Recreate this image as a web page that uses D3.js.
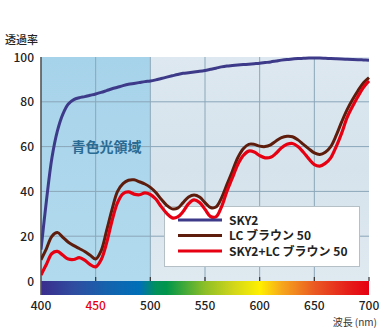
<!DOCTYPE html>
<html><head><meta charset="utf-8">
<script src="https://cdn.jsdelivr.net/npm/d3@7"></script>
<style>body{margin:0;background:#fff}svg{display:block}</style>
</head><body>
<script>
const wavelengths = [400,405,410,415,420,425,430,435,440,445,450,455,460,465,470,475,480,485,490,495,500,505,510,515,520,525,530,535,540,545,550,555,560,565,570,575,580,585,590,595,600,605,610,615,620,625,630,635,640,645,650,655,660,665,670,675,680,685,690,695,700];
const sky2 = [14,36,55,67,74.5,79,81,81.8,82.3,82.9,83.5,84.2,85,85.8,86.5,87.2,87.8,88.2,88.6,89,89.3,89.8,90.4,91,91.6,92.2,92.7,93,93.3,93.6,94,94.5,95,95.6,96,96.2,96.4,96.6,96.8,97,97.2,97.5,97.8,98.2,98.6,98.9,99.1,99.3,99.4,99.5,99.5,99.5,99.4,99.3,99.2,99.1,99,98.9,98.8,98.7,98.6];
const lcBrown = [9.5,14.5,20,21.6,19.5,17.3,15.8,14.5,13.2,11.5,9.8,13.5,22.5,32,40,43.5,45,45.2,44.3,43.3,41.8,39.5,36.5,33.8,32.2,32.5,35,37.5,38.4,37.5,35,32.8,33,37,43,49,55,59,61,61,60.2,60,60.8,62.5,64,64.6,64.4,63,61,59,57.2,56.5,57.5,60,65,71,76.5,81,85,88.5,90.8];
const combo = [2.7,7.5,12.3,13.2,11.5,9.8,9.6,10.4,9.3,7.3,6.3,9.5,17,27,35,39,39.8,38.8,38.5,39.3,38.6,36.6,33.2,30.2,28.2,28.6,31,34.5,36.2,35,32,28.8,28.6,33,40,46,52,56,58,57.6,56,55,55.2,57,59.5,61,61.4,60,57.5,54.5,52,51.3,52.5,55,60,66,73,78,82.5,86.5,89.3];
const xTicks = [400,450,500,550,600,650,700];
const yTicks = [0,20,40,60,80,100];
const seriesNames = ["SKY2","LC ブラウン 50","SKY2+LC ブラウン 50"];
const seriesColors = ["#3e3a8a","#5e1d0c","#e60012"];
const spectrumStops = [[400,"#3a2d8c"],[430,"#2f4da0"],[460,"#1562ad"],[490,"#006fb8"],[505,"#00915a"],[515,"#00964a"],[550,"#8dbf26"],[575,"#cfd51a"],[600,"#fff000"],[620,"#f6a81c"],[650,"#ea5a22"],[680,"#e5201a"],[700,"#e60012"]];

const W=380,H=328;
const svg=d3.select("body").append("svg").attr("width",W).attr("height",H);
const x=d3.scaleLinear().domain([400,700]).range([41,369]);
const y=d3.scaleLinear().domain([0,100]).range([281,57]);
const defs=svg.append("defs");
const font="'Noto Sans CJK JP','Noto Sans',sans-serif";

const gBlue=defs.append("linearGradient").attr("id","gb").attr("x1",0).attr("y1",0).attr("x2",0).attr("y2",1);
gBlue.append("stop").attr("offset",0).attr("stop-color","#a7d3ea");
gBlue.append("stop").attr("offset",1).attr("stop-color","#b2daee");
const gGray=defs.append("linearGradient").attr("id","gg").attr("x1",0).attr("y1",0).attr("x2",0).attr("y2",1);
gGray.append("stop").attr("offset",0).attr("stop-color","#dde8f0");
gGray.append("stop").attr("offset",0.5).attr("stop-color","#d6e3ec");
gGray.append("stop").attr("offset",1).attr("stop-color","#dfe9f0");
const gSpec=defs.append("linearGradient").attr("id","gs").attr("x1",0).attr("x2",1).attr("y1",0).attr("y2",0);
spectrumStops.forEach(s=>gSpec.append("stop").attr("offset",(s[0]-400)/300).attr("stop-color",s[1]));
defs.append("clipPath").attr("id","cp").append("rect").attr("x",x(400)).attr("y",y(100)-3).attr("width",x(700)-x(400)+2).attr("height",y(0)-y(100)+3);

svg.append("rect").attr("x",x(400)).attr("y",y(100)).attr("width",x(500)-x(400)).attr("height",y(0)-y(100)).attr("fill","url(#gb)");
svg.append("rect").attr("x",x(500)).attr("y",y(100)).attr("width",x(700)-x(500)).attr("height",y(0)-y(100)).attr("fill","url(#gg)");

// grid
svg.append("g").selectAll("line").data(yTicks.filter(d=>d>0&&d<100)).join("line")
  .attr("x1",x(400)).attr("x2",x(700)).attr("y1",d=>y(d)).attr("y2",d=>y(d))
  .attr("stroke","#8ba6b9").attr("stroke-width",1);
svg.append("g").selectAll("line").data(xTicks.filter(d=>d>400&&d<700)).join("line")
  .attr("x1",d=>x(d)).attr("x2",d=>x(d)).attr("y1",y(100)).attr("y2",y(0))
  .attr("stroke","#8ba6b9").attr("stroke-width",1);

// spectrum bar
svg.append("rect").attr("x",x(400)).attr("y",y(0)).attr("width",x(700)-x(400)).attr("height",14).attr("fill","url(#gs)");
svg.append("g").selectAll("line").data(xTicks.filter(d=>d>400)).join("line")
  .attr("x1",d=>x(d)).attr("x2",d=>x(d)).attr("y1",y(0)-4).attr("y2",y(0))
  .attr("stroke","#333").attr("stroke-width",1.2);
svg.append("line").attr("x1",x(400)).attr("x2",x(400)).attr("y1",y(100)).attr("y2",y(0)+14).attr("stroke","#555").attr("stroke-width",1.6);

// region label
svg.append("text").attr("x",x(460)).attr("y",152).attr("text-anchor","middle").attr("font-family",font).attr("font-weight","bold").attr("font-size",14).attr("fill","#2a6b93").text("青色光領域");

// legend box
const lg=svg.append("g");
lg.append("rect").attr("x",164.5).attr("y",206.5).attr("width",195).attr("height",60).attr("fill","#fff").attr("stroke","#b5bfc6").attr("stroke-width",1);

// lines
const line=d3.line().x((d,i)=>x(wavelengths[i])).y(d=>y(d)).curve(d3.curveCatmullRom.alpha(0.5));
const cg=svg.append("g").attr("clip-path","url(#cp)");
[sky2,lcBrown,combo].forEach((s,i)=>{
  cg.append("path").datum(s).attr("d",line).attr("fill","none").attr("stroke",seriesColors[i]).attr("stroke-width",i==2?3.2:3).attr("stroke-linejoin","round");
});

const lgItems=svg.append("g");
seriesNames.forEach((n,i)=>{
  const yy=220+i*15.5;
  lgItems.append("line").attr("x1",178).attr("x2",222).attr("y1",yy).attr("y2",yy).attr("stroke",seriesColors[i]).attr("stroke-width",3);
  lgItems.append("text").attr("x",229).attr("y",yy+4.5).attr("font-family",font).attr("font-weight","bold").attr("font-size",12).attr("fill","#222").text(n);
});

// axes labels
svg.append("g").selectAll("text").data(yTicks).join("text")
  .attr("x",34).attr("y",d=>y(d)+4.5).attr("text-anchor","end").attr("font-family",font).attr("font-weight","500").attr("font-size",12).attr("fill","#222").text(d=>d);
svg.append("g").selectAll("text").data(xTicks).join("text")
  .attr("x",d=>x(d)).attr("y",309.5).attr("text-anchor","middle").attr("font-family",font).attr("font-weight","500").attr("font-size",12).attr("fill",d=>d==450?"#e60012":"#222").text(d=>d);
svg.append("text").attr("x",5).attr("y",44).attr("font-family",font).attr("font-weight","500").attr("font-size",11).attr("fill","#222").text("透過率");
svg.append("text").attr("x",377).attr("y",325.5).attr("text-anchor","end").attr("font-family",font).attr("font-size",10).attr("fill","#333").text("波長 (nm)");
</script>
</body></html>
